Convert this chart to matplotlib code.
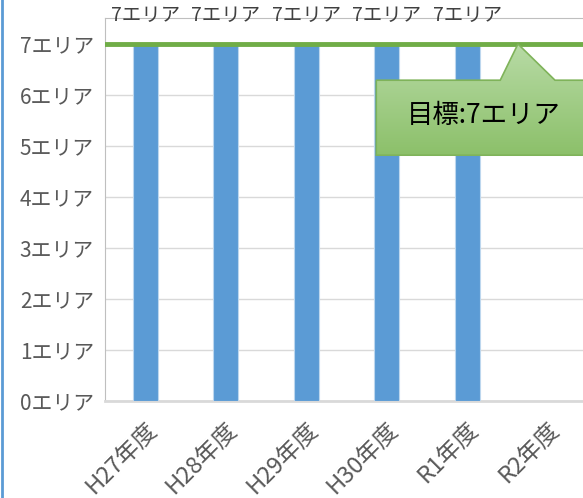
import numpy as np
import matplotlib.pyplot as plt
from matplotlib.patches import Polygon
from matplotlib.colors import LinearSegmentedColormap

plt.rcParams['font.family'] = ['Noto Sans CJK JP', 'DejaVu Sans']

years = ["H27年度", "H28年度", "H29年度", "H30年度", "R1年度", "R2年度"]
areas = [7, 7, 7, 7, 7, None]
target = 7
yticks = [0, 1, 2, 3, 4, 5, 6, 7]
ytick_labels = [f"{v}エリア" for v in yticks]

BLUE = "#5B9BD5"
GREEN = "#70AD47"
GRAY = "#595959"

fig = plt.figure(figsize=(5.83, 4.98), dpi=100)
ax = fig.add_axes([105 / 583, 97 / 498, 483 / 583, 382.5 / 498])

x = np.arange(len(years))
bx = [i for i, v in zip(x, areas) if v is not None]
bv = [v for v in areas if v is not None]
ax.bar(bx, bv, width=0.31, color=BLUE, edgecolor="#BDD7EE", linewidth=0.8, zorder=3)

for xi, v in zip(bx, bv):
    ax.text(xi, 7.55, f"{v}エリア", ha="center", va="center", fontsize=14,
            color="#404040", zorder=5, clip_on=False)

ax.axhline(target, color=GREEN, linewidth=3.5, zorder=4)

ax.set_xlim(-0.5, len(years) - 0.5)
ax.set_ylim(0, 7.5)
ax.set_yticks(yticks)
ax.set_yticklabels(ytick_labels, fontsize=15, color=GRAY)
ax.set_xticks(x)
ax.set_xticklabels(years, fontsize=17, color=GRAY, rotation=45,
                   ha="right", rotation_mode="anchor")
ax.tick_params(length=0, pad=8)
ax.tick_params(axis="x", pad=12)
ax.grid(axis="y", color="#D9D9D9", linewidth=1, zorder=0)
for s in ["left", "top"]:
    ax.spines[s].set_color("#BFBFBF")
ax.spines["bottom"].set_color("#D9D9D9")
ax.spines["bottom"].set_linewidth(2)
ax.spines["right"].set_visible(False)

# callout
tip_x = 4.63
pts = [(2.87, 6.29), (4.41, 6.29), (tip_x, target), (5.09, 6.29),
       (5.7, 6.29), (5.7, 4.82), (2.87, 4.82)]
poly = Polygon(pts, closed=True, facecolor="none", edgecolor="#7FB35A",
               linewidth=1.2, zorder=7, clip_on=False)
cmap = LinearSegmentedColormap.from_list("g", ["#8CC06A", "#B8DBA6"])
grad = np.linspace(0, 1, 256).reshape(-1, 1)
im = ax.imshow(grad, cmap=cmap, origin="lower", aspect="auto",
               extent=[2.87, 5.7, 4.82, target], zorder=6)
ax.add_patch(poly)
im.set_clip_path(poly)
ax.text(4.2, 5.6, "目標:7エリア", fontsize=19, color="black",
        ha="center", va="center", zorder=8)
ax.set_xlim(-0.5, len(years) - 0.5)
ax.set_ylim(0, 7.5)

fig.add_artist(plt.Line2D([2 / 583, 2 / 583], [0, 1], color=BLUE, linewidth=2))

fig.savefig("out.png", dpi=100)
